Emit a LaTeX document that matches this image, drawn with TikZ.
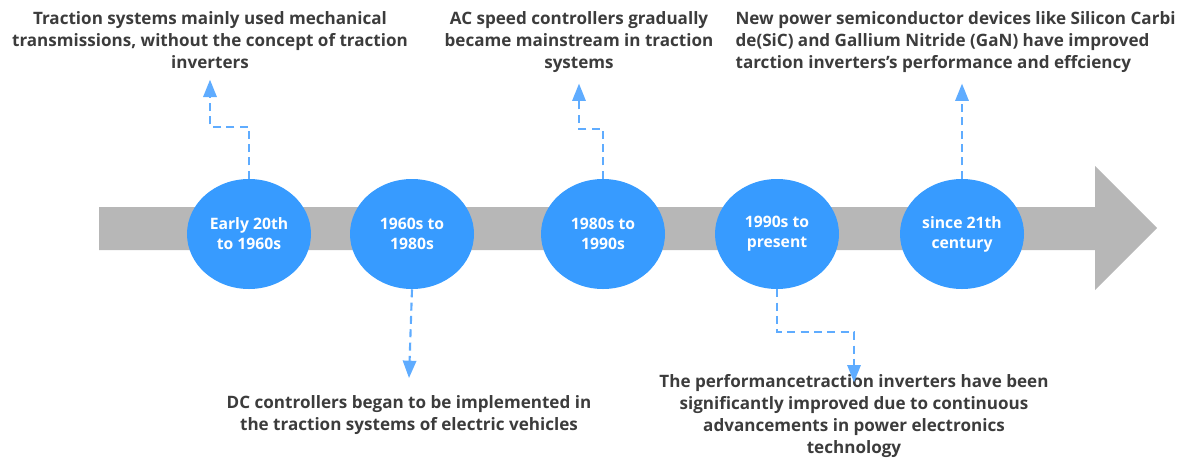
\documentclass[tikz,border=0pt]{standalone}
\usepackage{fontspec}
\setmainfont{Open Sans}
\usetikzlibrary{shapes.geometric}
\usetikzlibrary{arrows.meta}

\definecolor{eraBlue}{RGB}{55,155,255}
\definecolor{linkBlue}{RGB}{95,172,255}
\definecolor{barGray}{RGB}{183,183,183}
\definecolor{noteGray}{RGB}{60,60,60}

\tikzset{
  era/.style={ellipse, fill=eraBlue, text=white, minimum width=93pt, minimum height=82.5pt,
    inner sep=0pt, align=center, font=\bfseries\fontsize{11.8}{15}\selectfont},
  note/.style={text=noteGray, inner sep=1pt, align=center,
    font=\bfseries\fontsize{12.8}{16.5}\selectfont},
  link/.style={linkBlue, line width=1.6pt, dash pattern=on 6pt off 4pt,
    -{Triangle[length=13pt, width=10pt]}}
}

\begin{document}
\begin{tikzpicture}[x=0.75pt, y=-0.75pt]
  \useasboundingbox (0,0) rectangle (1191,457);

  % time bar
  \fill[barGray] (99,207) -- (1095,207) -- (1095,166) -- (1157,228)
    -- (1095,290) -- (1095,250) -- (99,250) -- cycle;

  % periods
  \node[era] (p1) at (249,234) {Early 20th\\to 1960s};
  \node[era] (p2) at (412,234) {1960s to\\1980s};
  \node[era] (p3) at (603,234) {1980s to\\1990s};
  \node[era] (p4) at (777,234) {1990s to\\present};
  \node[era] (p5) at (962,234) {since 21th\\century};

  % notes above
  \node[note, anchor=north] (t1) at (210,10) {Traction systems mainly used mechanical\\transmissions, without the concept of traction\\inverters};
  \node[note, anchor=north] (t3) at (579,10) {AC speed controllers gradually\\became mainstream in traction\\systems};
  \node[note, anchor=north west, align=left] (t5) at (734,10) {New power semiconductor devices like Silicon Carbi\\de(SiC) and Gallium Nitride (GaN) have improved\\tarction inverters's performance and effciency};

  % notes below
  \node[note, anchor=north] (t2) at (409,394) {DC controllers began to be implemented in\\the traction systems of electric vehicles};
  \node[note, anchor=north] (t4) at (854,373) {The performancetraction inverters have been\\significantly improved due to continuous\\advancements in power electronics\\technology};

  % links
  \draw[link] (p1.north) -- ++(0,-52) -| ([yshift=-7pt]t1.south);
  \draw[link] (p3.north) -- ++(0,-50) -| ([yshift=-7pt]t3.south);
  \draw[link] (p5.north) -- ([yshift=-7pt]p5.north |- t5.south);
  \draw[link] (p2.south) -- ([yshift=12pt]t2.north);
  \draw[link] (p4.south) -- ++(0,43) -| ([yshift=-7pt]t4.north);
\end{tikzpicture}
\end{document}
